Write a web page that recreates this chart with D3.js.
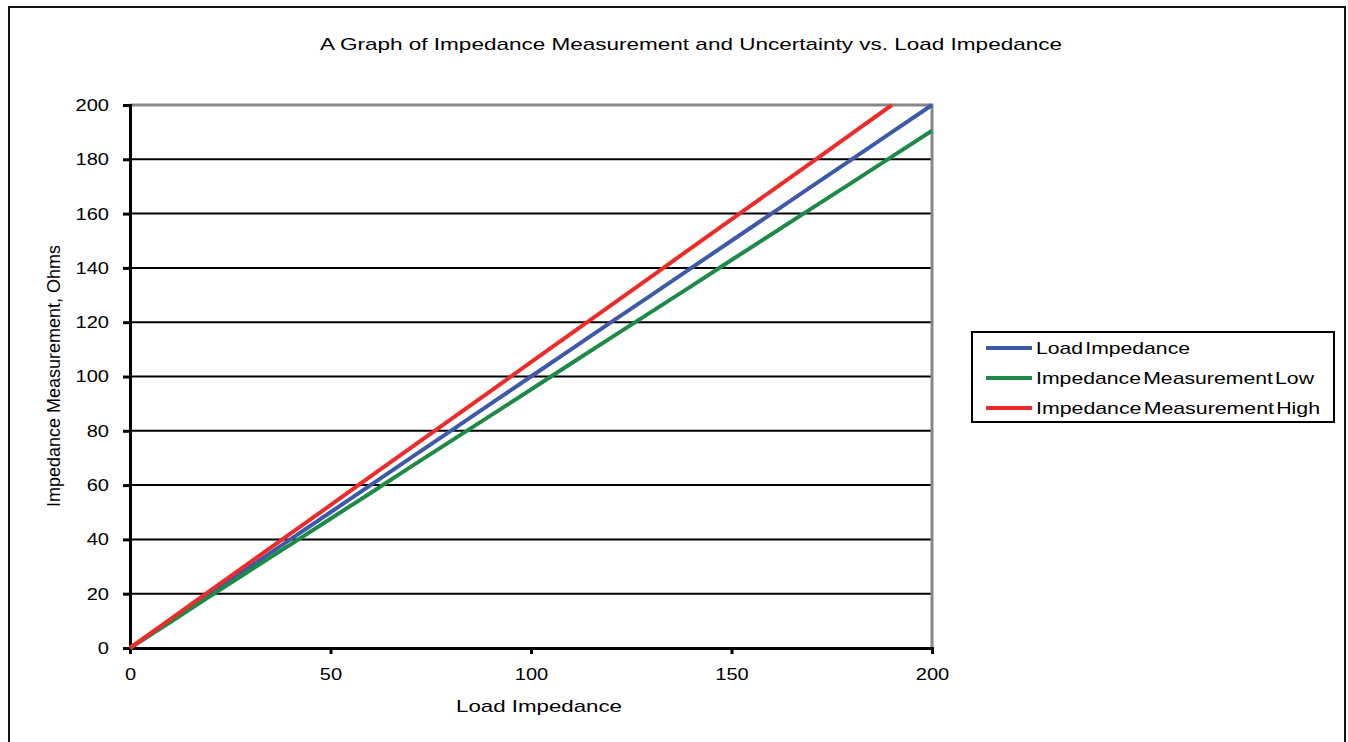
<!DOCTYPE html>
<html>
<head>
<meta charset="utf-8">
<script src="https://cdnjs.cloudflare.com/ajax/libs/d3/7.8.5/d3.min.js"></script>
<style>
  body { margin: 0; background: #fff; }
  text { font-family: "Liberation Sans", Arial, sans-serif; fill: #000; }
</style>
</head>
<body>
<svg id="chart" width="1348" height="742"></svg>
<script>
// load impedance (x) values
let loadX = [0, 10, 20, 30, 40, 50, 60, 70, 80, 90, 100, 110, 120, 130, 140, 150, 160, 170, 180, 190, 200];
let loadImp = [0, 10, 20, 30, 40, 50, 60, 70, 80, 90, 100, 110, 120, 130, 140, 150, 160, 170, 180, 190, 200];
let measLow = [0, 9.5, 19.1, 28.6, 38.1, 47.6, 57.1, 66.7, 76.2, 85.7, 95.2, 104.8, 114.3, 123.8, 133.3, 142.9, 152.4, 161.9, 171.4, 181, 190.5];
let measHigh = [0, 10.5, 21.1, 31.6, 42.1, 52.6, 63.2, 73.7, 84.2, 94.7, 105.3, 115.8, 126.3, 136.8, 147.4, 157.9, 168.4, 178.9, 189.5, 200];

const seriesNames = ['Load Impedance', 'Impedance Measurement Low', 'Impedance Measurement High'];
const seriesColors = ['#3d5aa8', '#1e8a46', '#ee2b2b'];
const xTicks = [0, 50, 100, 150, 200];
const yTicks = [0, 20, 40, 60, 80, 100, 120, 140, 160, 180, 200];

let svg = d3.select('#chart');

// outer frame
svg.append('rect')
   .attr('x', 9).attr('y', 7)
   .attr('width', 1336).attr('height', 760)
   .attr('fill', 'none').attr('stroke', '#111').attr('stroke-width', 2);

const plotL = 130, plotR = 932, plotT = 105, plotB = 648;

let x = d3.scaleLinear().domain([0, 200]).range([plotL, plotR]);
let y = d3.scaleLinear().domain([0, 200]).range([plotB, plotT]);

// gridlines
svg.selectAll('.grid')
   .data(yTicks.filter(d => d > 0 && d < 200))
   .enter()
   .append('line')
   .attr('x1', plotL).attr('x2', plotR)
   .attr('y1', d => y(d)).attr('y2', d => y(d))
   .attr('stroke', '#000').attr('stroke-width', 2);

// grey top / right border
svg.append('path')
   .attr('d', `M${plotL},${y(200)}H${plotR}V${plotB}`)
   .attr('fill', 'none').attr('stroke', '#888').attr('stroke-width', 3);

// axes
let yAxis = svg.append('g')
   .attr('transform', `translate(${plotL},0)`)
   .call(d3.axisLeft(y).tickValues(yTicks).tickSize(7).tickPadding(14));
let xAxis = svg.append('g')
   .attr('transform', `translate(0,${plotB})`)
   .call(d3.axisBottom(x).tickValues(xTicks).tickSize(6).tickPadding(14));

[xAxis, yAxis].forEach(a => {
    a.select('.domain').attr('stroke', '#000').attr('stroke-width', 3);
    a.selectAll('.tick line').attr('stroke', '#000').attr('stroke-width', 3);
    a.selectAll('.tick text')
     .style('font-size', '17px')
     .style('font-family', '"Liberation Sans", Arial, sans-serif')
     .each(function() {
        // glyphs in the original are a bit wider than normal
        let w = this.getComputedTextLength();
        d3.select(this).attr('textLength', w * 1.18).attr('lengthAdjust', 'spacingAndGlyphs');
     });
});

// series lines
let seriesData = [
    loadX.map((v, i) => [v, loadImp[i]]),
    loadX.map((v, i) => [v, measLow[i]]),
    measHigh.map((v, i) => [loadX[i], v])
];

let line = d3.line().x(d => x(d[0])).y(d => y(d[1]));

svg.selectAll('.series')
   .data(seriesData)
   .enter()
   .append('path')
   .attr('d', line)
   .attr('fill', 'none')
   .attr('stroke', (d, i) => seriesColors[i])
   .attr('stroke-width', 4)
   .attr('stroke-linejoin', 'round');

// title and axis labels
svg.append('text')
   .attr('x', 691).attr('y', 50)
   .attr('text-anchor', 'middle')
   .style('font-size', '17px')
   .attr('textLength', 742)
   .attr('lengthAdjust', 'spacingAndGlyphs')
   .text('A Graph of Impedance Measurement and Uncertainty vs. Load Impedance');

svg.append('text')
   .attr('x', 539).attr('y', 712)
   .attr('text-anchor', 'middle')
   .style('font-size', '17px')
   .attr('textLength', 166)
   .attr('lengthAdjust', 'spacingAndGlyphs')
   .text('Load Impedance');

svg.append('text')
   .attr('transform', 'translate(60,376) rotate(-90)')
   .attr('text-anchor', 'middle')
   .style('font-size', '18px')
   .attr('textLength', 262)
   .attr('lengthAdjust', 'spacingAndGlyphs')
   .text('Impedance Measurement, Ohms');

// legend
const legendLen = [154, 278, 284];
let legend = svg.append('g');
legend.append('rect')
   .attr('x', 972).attr('y', 332)
   .attr('width', 362).attr('height', 90)
   .attr('fill', '#fff').attr('stroke', '#000').attr('stroke-width', 2);

let items = legend.selectAll('.legend-item')
   .data(seriesNames)
   .enter()
   .append('g')
   .attr('transform', (d, i) => `translate(986,${348 + i * 30})`);

items.append('line')
   .attr('x1', 0).attr('x2', 46)
   .attr('stroke', (d, i) => seriesColors[i])
   .attr('stroke-width', 4);

items.append('text')
   .attr('x', 50).attr('y', 6)
   .style('font-size', '17px')
   .style('word-spacing', '-3px')
   .attr('textLength', (d, i) => legendLen[i])
   .attr('lengthAdjust', 'spacingAndGlyphs')
   .text(d => d);
</script>
</body>
</html>
